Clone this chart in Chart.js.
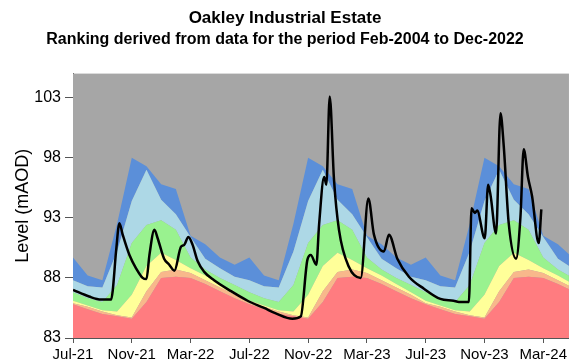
<!DOCTYPE html>
<html>
<head>
<meta charset="utf-8">
<script src="https://cdn.jsdelivr.net/npm/chart.js@4/dist/chart.umd.min.js"></script>
<style>
  html, body { margin: 0; padding: 0; background: #ffffff; }
  #wrap { width: 570px; height: 364px; }
</style>
</head>
<body>
<div id="wrap"><canvas id="chart" width="570" height="364"></canvas></div>
<script>
// Month positions of the ranking bands: 0 = Jul-21, 1 = Aug-21, ... 34 = May-24
const bandMonths = [0,1,2,3,4,5,6,7,8,9,10,11,12,13,14,15,16,17,18,19,20,21,22,23,24,25,26,27,28,29,30,31,32,33,34];

// Upper edge of each ranking band (mAOD), lowest band first
const bandRed    = [85.8,85.4,85.0,84.8,84.6,86.0,88.0,88.1,88.0,87.5,86.9,86.3, 85.8,85.4,85.0,84.8,84.6,86.0,88.0,88.1,88.0,87.5,86.9,86.3, 85.8,85.4,85.0,84.8,84.6,86.0,88.0,88.1,88.0,87.5,86.9];
const bandOrange = [85.9,85.6,85.2,84.9,84.7,86.9,88.5,88.7,88.4,87.8,87.2,86.6, 85.9,85.6,85.2,84.9,84.7,86.9,88.5,88.7,88.4,87.8,87.2,86.6, 85.9,85.6,85.2,84.9,84.7,86.9,88.5,88.7,88.4,87.8,87.2];
const bandYellow = [86.1,85.7,85.3,85.2,86.6,89.0,90.1,89.5,88.8,88.2,87.5,86.8, 86.1,85.7,85.3,85.2,86.6,89.0,90.1,89.5,88.8,88.2,87.5,86.8, 86.1,85.7,85.3,85.2,86.6,89.0,90.1,89.5,88.8,88.2,87.5];
const bandGreen  = [86.8,86.3,86.0,87.4,90.9,92.4,92.8,92.0,89.7,88.7,88.0,87.4, 86.8,86.3,86.0,87.4,90.9,92.4,92.8,92.0,89.7,88.7,88.0,87.4, 86.8,86.3,86.0,87.4,90.9,92.4,92.8,92.0,89.7,88.7,88.0];
const bandLtBlue = [87.8,87.3,87.2,90.2,94.4,97.0,94.5,93.3,91.4,89.6,88.8,88.1, 87.8,87.3,87.2,90.2,94.4,97.0,94.5,93.3,91.4,89.6,88.8,88.1, 87.8,87.3,87.2,90.2,94.4,97.0,94.5,93.3,91.4,89.6,88.8];
const bandBlue   = [89.7,88.2,87.8,92.5,98.0,97.3,95.8,95.4,91.5,90.8,89.7,89.1, 89.7,88.2,87.8,92.5,98.0,97.3,95.8,95.4,91.5,90.8,89.7,89.1, 89.7,88.2,87.8,92.5,98.0,97.3,95.8,95.4,91.5,90.8,89.7];

// Observed groundwater level: time in months after 1 Jul 2021, level in mAOD
const levelMonths = [0,1.1,1.9,2.6,2.7,2.93,3.16,3.38,3.84,4.29,4.74,5.0,5.2,5.54,5.76,6.2,6.55,6.9,7.35,7.57,7.85,8.14,8.48,8.93,9.6,10.75,11.88,13.0,13.8,14.93,15.5,15.95,16.18,16.56,16.75,17.09,17.24,17.47,17.76,18.1,18.78,19.58,20.1,20.48,21.16,21.5,22.07,22.86,23.88,25.0,25.9,26.26,26.94,27.12,27.34,27.5,28.02,28.25,28.41,28.79,29.09,29.31,29.65,30.15,30.45,30.67,30.96,31.24,31.69,31.87];
const levelValues = [87.0,86.45,86.2,86.2,86.9,90.2,92.55,91.6,89.9,88.8,88.0,87.9,89.9,92.0,91.3,89.6,89.1,88.6,90.6,90.75,91.4,90.75,89.4,88.5,87.8,86.9,86.1,85.5,85.05,84.6,84.8,89.5,89.9,89.1,92.5,96.4,95.75,103.1,96.2,92.0,88.9,88.0,94.6,91.6,90.2,91.6,89.6,88.1,87.1,86.25,86.1,86.0,86.0,93.8,93.4,93.6,91.3,95.75,94.9,91.7,101.7,99.0,92.55,89.6,93.1,98.7,96.4,94.8,90.9,93.7];

// Axis ticks
const xTickMonths = [0,4,8,12,16,20,24,28,32];
const xTickLabels = ['Jul-21','Nov-21','Mar-22','Jul-22','Nov-22','Mar-23','Jul-23','Nov-23','Mar-24'];
const yTickValues = [83,88,93,98,103];

const toPoints = (xs, ys) => xs.map((x, i) => ({ x: x, y: ys[i] }));

const bandStyle = (label, values, color, fill) => ({
  label: label,
  data: toPoints(bandMonths, values),
  backgroundColor: color,
  borderWidth: 0,
  pointRadius: 0,
  tension: 0,
  fill: fill
});

// Grey background behind the bands, inside the plot area
const plotBackground = {
  id: 'plotBackground',
  beforeDatasetsDraw(chart) {
    const a = chart.chartArea;
    const ctx = chart.ctx;
    ctx.save();
    ctx.fillStyle = '#a6a6a6';
    ctx.fillRect(a.left, a.top, a.right - a.left, a.bottom - a.top);
    ctx.restore();
  }
};

const fontFamily = '"Liberation Sans", Arial, Helvetica, sans-serif';

new Chart(document.getElementById('chart'), {
  type: 'line',
  data: {
    datasets: [
      bandStyle('Red', bandRed, '#ff7c80', 'start'),
      bandStyle('Orange', bandOrange, '#f8b88b', '-1'),
      bandStyle('Yellow', bandYellow, '#ffff99', '-1'),
      bandStyle('Green', bandGreen, '#99f28f', '-1'),
      bandStyle('Light blue', bandLtBlue, '#add8e6', '-1'),
      bandStyle('Blue', bandBlue, '#5b8fd9', '-1'),
      {
        label: 'Level',
        data: toPoints(levelMonths, levelValues),
        borderColor: '#000000',
        borderWidth: 2.5,
        pointRadius: 0,
        fill: false,
        cubicInterpolationMode: 'monotone',
        order: -1
      }
    ]
  },
  options: {
    responsive: false,
    animation: false,
    devicePixelRatio: 1,
    layout: { padding: { left: 0, right: 0, top: 0, bottom: 0 } },
    plugins: {
      legend: { display: false },
      tooltip: { enabled: false },
      title: {
        display: true,
        text: 'Oakley Industrial Estate',
        color: '#000000',
        font: { family: fontFamily, size: 17, weight: 'bold' },
        padding: { top: 8, bottom: 2 }
      },
      subtitle: {
        display: true,
        text: 'Ranking derived from data for the period Feb-2004 to Dec-2022',
        color: '#000000',
        font: { family: fontFamily, size: 16, weight: 'bold' },
        padding: { top: 0, bottom: 24 }
      }
    },
    scales: {
      x: {
        type: 'linear',
        min: 0,
        max: 33.75,
        afterBuildTicks: (scale) => { scale.ticks = xTickMonths.map(v => ({ value: v })); },
        afterFit: (scale) => { scale.height = 26; },
        ticks: {
          autoSkip: false,
          maxRotation: 0,
          padding: 3,
          color: '#000000',
          font: { family: fontFamily, size: 15 },
          callback: (v) => xTickLabels[xTickMonths.indexOf(v)]
        },
        grid: { display: true, drawOnChartArea: false, tickLength: 5, color: '#555555' },
        border: { display: true, color: '#555555', width: 1 }
      },
      y: {
        type: 'linear',
        min: 83,
        max: 105,
        afterBuildTicks: (scale) => { scale.ticks = yTickValues.map(v => ({ value: v })); },
        afterFit: (scale) => { scale.width = 73; },
        title: {
          display: true,
          text: 'Level (mAOD)',
          color: '#000000',
          font: { family: fontFamily, size: 18 },
          padding: { top: 12, bottom: 0 }
        },
        ticks: {
          padding: 4,
          color: '#000000',
          font: { family: fontFamily, size: 16 }
        },
        grid: { display: true, drawOnChartArea: false, tickLength: 8, color: '#555555' },
        border: { display: true, color: '#555555', width: 1 }
      }
    }
  },
  plugins: [plotBackground]
});
</script>
</body>
</html>
